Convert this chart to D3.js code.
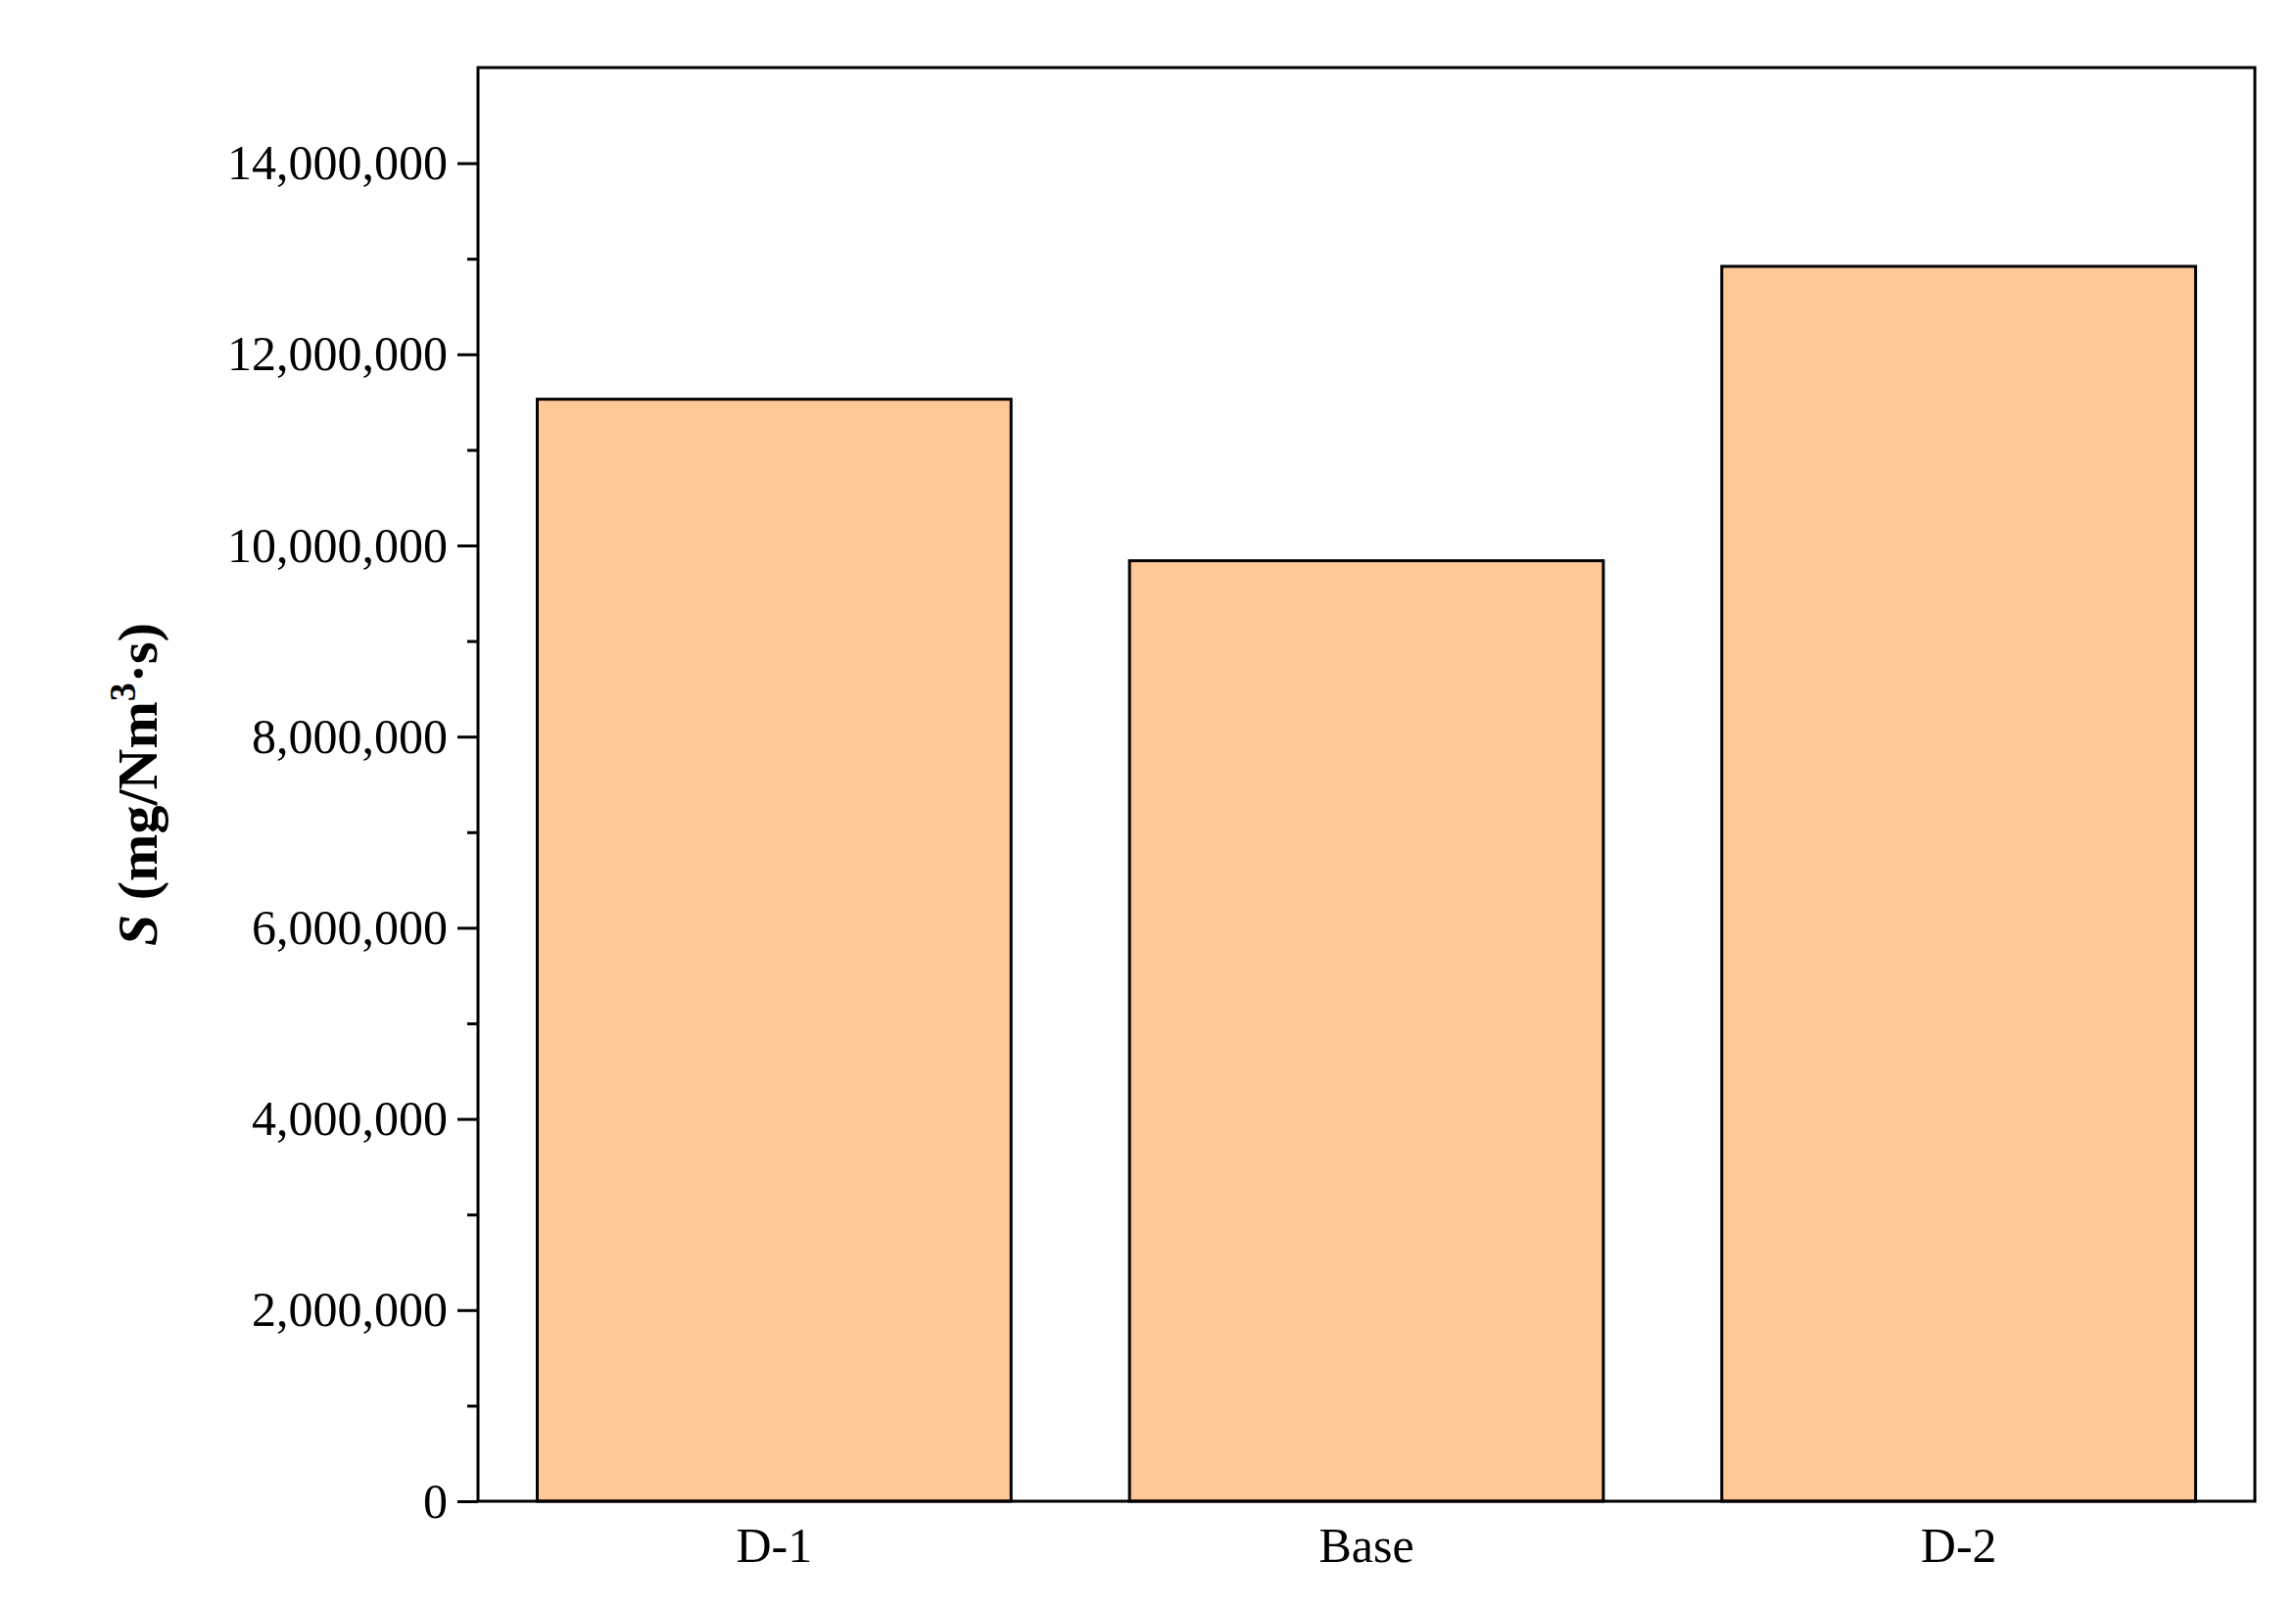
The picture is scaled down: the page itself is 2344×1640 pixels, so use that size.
<!DOCTYPE html>
<html><head><meta charset="utf-8">
<script src="https://cdn.jsdelivr.net/npm/d3@7"></script>
<style>body{margin:0;background:#fff}</style></head>
<body><svg id="c" width="2344" height="1640"></svg>
<script>
const categories = ["D-1","Base","D-2"];
const values = [11530000, 9840000, 12920000];
const yTicks = [0,2000000,4000000,6000000,8000000,10000000,12000000,14000000];
const minorTicks = [1000000,3000000,5000000,7000000,9000000,11000000,13000000];

const svg = d3.select("#c");
const L=488, R=2302, T=69, B=1533;
const x = d3.scaleBand().domain(categories).range([L,R]).paddingInner(0.2).paddingOuter(0.1);
const y = d3.scaleLinear().domain([0,15000000]).range([B,T]);
const font = "'Liberation Serif','Times New Roman',serif";

svg.selectAll("rect.bar").data(values).enter().append("rect")
 .attr("x",(d,i)=>x(categories[i])).attr("y",d=>y(d))
 .attr("width",x.bandwidth()).attr("height",d=>B-y(d))
 .attr("fill","#FFC896").attr("stroke","#000").attr("stroke-width",3);

const ya = svg.append("g").attr("transform",`translate(${L},0)`)
 .call(d3.axisLeft(y).tickValues(yTicks).tickSize(21).tickPadding(10).tickFormat(d3.format(",")));
ya.selectAll("text").style("font-family",font).style("font-size","50px").attr("fill","#000");
ya.selectAll("line").attr("stroke-width",3);
ya.select(".domain").remove();
svg.append("g").attr("transform",`translate(${L},0)`)
 .call(d3.axisLeft(y).tickValues(minorTicks).tickSize(11).tickFormat(""))
 .call(g=>{g.select(".domain").remove();g.selectAll("line").attr("stroke-width",3);});

const xa = svg.append("g").attr("transform",`translate(0,${B})`)
 .call(d3.axisBottom(x).tickSize(0).tickPadding(26));
xa.select(".domain").remove();
xa.selectAll("text").style("font-family",font).style("font-size","50px").attr("fill","#000");

svg.append("rect").attr("x",L).attr("y",T).attr("width",R-L).attr("height",B-T)
 .attr("fill","none").attr("stroke","#000").attr("stroke-width",3);

const lab = svg.append("text").attr("transform",`translate(160,${(T+B)/2}) rotate(-90)`)
 .attr("text-anchor","middle").style("font-family",font).style("font-size","58px").style("font-weight","bold");
lab.append("tspan").text("S").style("font-style","italic");
lab.append("tspan").text(" (mg/Nm");
lab.append("tspan").text("3").attr("dy","-22").style("font-size","38px");
lab.append("tspan").text("·s)").attr("dy","22");
</script></body></html>
